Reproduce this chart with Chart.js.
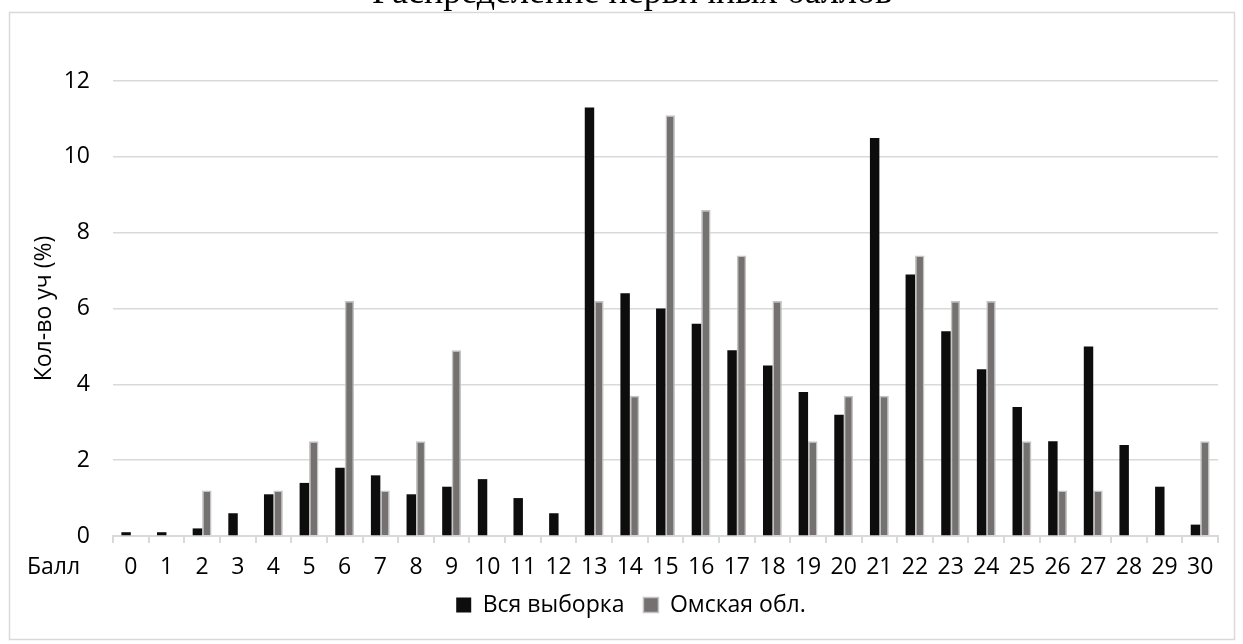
<!DOCTYPE html>
<html>
<head>
<meta charset="utf-8">
<script src="https://cdn.jsdelivr.net/npm/chart.js@4"></script>
<style>
  html, body { margin: 0; padding: 0; background: #fff; overflow: hidden; }
  #wrap { position: relative; width: 1243px; height: 644px; }
</style>
</head>
<body>
<div id="wrap"><canvas id="c" width="1243" height="644"></canvas></div>
<script>
const chartTitle = "Распределение первичных баллов";
const yAxisTitle = "Кол-во уч (%)";
const xAxisCaption = "Балл";
const categories = ["0","1","2","3","4","5","6","7","8","9","10","11","12","13","14","15","16","17","18","19","20","21","22","23","24","25","26","27","28","29","30"];
const seriesAllName = "Вся выборка";
const seriesAll = [0.1,0.1,0.2,0.6,1.1,1.4,1.8,1.6,1.1,1.3,1.5,1.0,0.6,11.3,6.4,6.0,5.6,4.9,4.5,3.8,3.2,10.5,6.9,5.4,4.4,3.4,2.5,5.0,2.4,1.3,0.3];
const seriesOmskName = "Омская обл.";
const seriesOmsk = [0,0,1.2,0,1.2,2.5,6.2,1.2,2.5,4.9,0,0,0,6.2,3.7,11.1,8.6,7.4,6.2,2.5,3.7,3.7,7.4,6.2,6.2,2.5,1.2,1.2,0,0,2.5];
const yTicks = [0,2,4,6,8,10,12];

const FONT = '"Open Sans", "DejaVu Sans", sans-serif';

const decor = {
  id: 'decor',
  afterLayout(chart) {
    if (chart.legend) {
      chart.legend.left += 22;
      chart.legend.right += 22;
    }
  },
  beforeDraw(chart) {
    const ctx = chart.ctx;
    ctx.save();
    ctx.fillStyle = '#ffffff';
    ctx.fillRect(0, 0, chart.width, chart.height);
    ctx.strokeStyle = '#d9d9d9';
    ctx.lineWidth = 1.5;
    ctx.strokeRect(9.5, 12.5, 1225, 627);
    ctx.fillStyle = '#000000';
    ctx.font = '36px "Liberation Serif", "Times New Roman", serif';
    ctx.textAlign = 'center';
    ctx.textBaseline = 'alphabetic';
    ctx.fillText(chartTitle, 632, 3);
    ctx.restore();
  },
  afterDraw(chart) {
    const ctx = chart.ctx;
    ctx.save();
    ctx.fillStyle = '#000000';
    ctx.font = '23px ' + FONT;
    ctx.textAlign = 'left';
    ctx.textBaseline = 'middle';
    ctx.fillText(xAxisCaption, 27, 567);
    ctx.restore();
  }
};

function build() {
  new Chart(document.getElementById('c'), {
    type: 'bar',
    data: {
      labels: categories,
      datasets: [
        { label: seriesAllName, data: seriesAll, backgroundColor: '#0d0d0d', borderColor: '#0d0d0d', borderWidth: 0,
          categoryPercentage: 0.53, barPercentage: 1.0 },
        { label: seriesOmskName, data: seriesOmsk, backgroundColor: '#767171', borderColor: '#c4c4c4', borderWidth: 1.5,
          categoryPercentage: 0.53, barPercentage: 1.0 }
      ]
    },
    options: {
      responsive: false,
      animation: false,
      devicePixelRatio: 1,
      layout: { padding: { top: 81, right: 25, bottom: 17.5, left: 0 } },
      plugins: {
        title: { display: false },
        tooltip: { enabled: false },
        legend: {
          display: true,
          position: 'bottom',
          labels: {
            color: '#000',
            font: { family: FONT, size: 23 },
            boxWidth: 15,
            boxHeight: 15,
            padding: 19
          }
        }
      },
      scales: {
        x: {
          offset: true,
          grid: { display: true, drawOnChartArea: false, drawTicks: true, tickLength: 7, color: '#d9d9d9', lineWidth: 2, offset: true },
          border: { display: true, color: '#d9d9d9', width: 2 },
          ticks: { color: '#000', font: { family: FONT, size: 23 }, padding: 11, maxRotation: 0, autoSkip: false },
          afterFit(scale) { scale.height = 38.5; }
        },
        y: {
          min: 0,
          max: 12,
          afterBuildTicks(scale) { scale.ticks = yTicks.map(v => ({ value: v })); },
          grid: { color: '#d9d9d9', lineWidth: 1.5, drawTicks: false },
          border: { display: false },
          ticks: { color: '#000', font: { family: FONT, size: 23 }, padding: 23 },
          title: { display: true, text: yAxisTitle, color: '#000', font: { family: FONT, size: 23 }, padding: { top: 31, bottom: 0 } },
          afterFit(scale) { scale.width = 113; }
        }
      }
    },
    plugins: [decor]
  });
}

Promise.all([
  document.fonts.load('23px "Open Sans"'),
  document.fonts.load('36px "Liberation Serif"')
]).then(build, build);
</script>
</body>
</html>
